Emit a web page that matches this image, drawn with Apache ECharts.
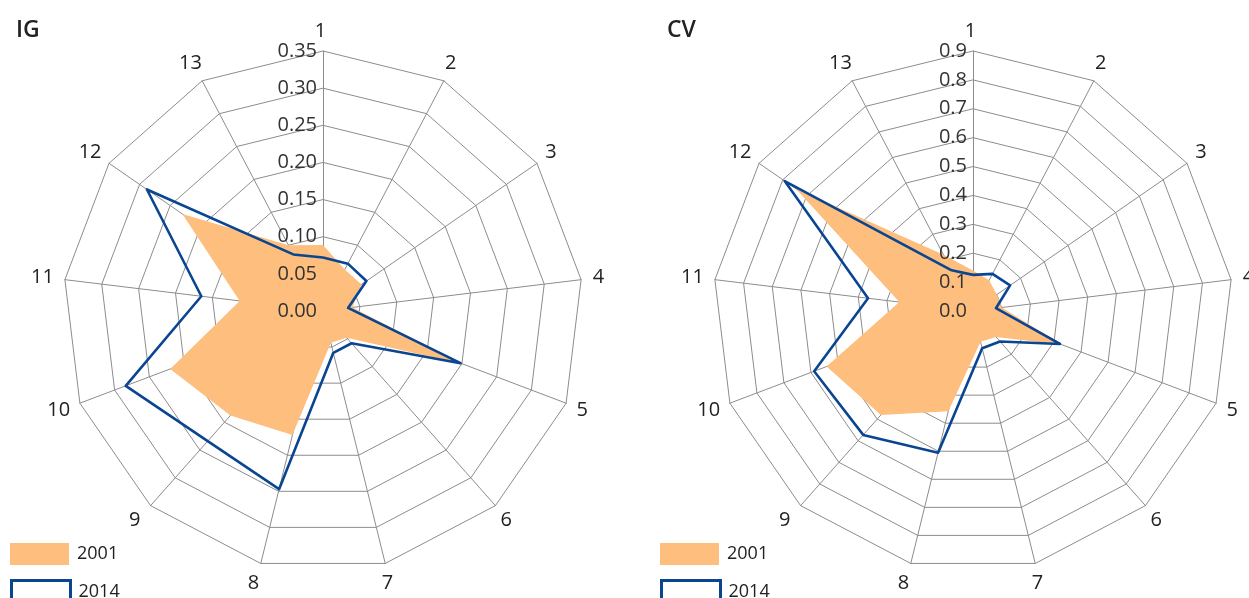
<!DOCTYPE html>
<html>
<head>
<meta charset="utf-8">
<script src="https://cdn.jsdelivr.net/npm/echarts@6/dist/echarts.min.js"></script>
<style>
  html, body { margin: 0; padding: 0; background: #fff; }
  #chart { width: 1249px; height: 598px; }
</style>
</head>
<body>
<div id="chart"></div>
<script>
// 13 indicators, 1 at the top, numbered clockwise
const indicators = ["1", "2", "3", "4", "5", "6", "7", "8", "9", "10", "11", "12", "13"];

// IG panel
const ig2001 = [0.089, 0.063, 0.063, 0.040, 0.200, 0.048, 0.044, 0.172, 0.188, 0.220, 0.113, 0.230, 0.100];
const ig2014 = [0.072, 0.072, 0.071, 0.034, 0.198, 0.058, 0.058, 0.247, 0.234, 0.284, 0.165, 0.288, 0.086];
const igMax = 0.35, igStep = 0.05;

// CV panel
const cv2001 = [0.140, 0.120, 0.100, 0.100, 0.330, 0.120, 0.110, 0.357, 0.481, 0.542, 0.257, 0.745, 0.220];
const cv2014 = [0.125, 0.145, 0.156, 0.080, 0.322, 0.141, 0.133, 0.505, 0.573, 0.588, 0.366, 0.792, 0.159];
const cvMax = 0.9, cvStep = 0.1;

const FONT = "Open Sans";
const ORANGE = "#fdbe7e";
const BLUE = "#0a4592";
const GRID = "#8c8c8c";

// echarts radar runs counter-clockwise, so flip the order
const order = [0, 12, 11, 10, 9, 8, 7, 6, 5, 4, 3, 2, 1];
const flip = arr => order.map(i => arr[i]);

function radarCfg(cx, max, step) {
  return {
    center: [cx, 311],
    radius: 260,
    startAngle: 90,
    shape: "polygon",
    splitNumber: Math.round(max / step),
    indicator: order.map(i => ({ name: indicators[i], min: 0, max: max })),
    nameGap: 20,
    axisName: {
      color: "#222", fontSize: 20, fontFamily: FONT,
      align: "center", verticalAlign: "middle",
      padding: [6, 5, 0, 0]
    },
    axisLine: { lineStyle: { color: GRID, width: 1 } },
    splitLine: { lineStyle: { color: GRID, width: 1 } },
    splitArea: { show: false }
  };
}

// one legend block per entry so they stack like the original
function legendItem(left, top, name) {
  const style = name === "2001"
    ? { color: ORANGE, borderWidth: 0 }
    : { color: "#fff", borderColor: BLUE, borderWidth: 3 };
  return {
    left: left, top: top, padding: 0,
    itemWidth: 59, itemHeight: 22,
    textStyle: { color: "#222", fontSize: 18, fontFamily: FONT, padding: [0, 0, 0, 3] },
    data: [{ name: name, icon: "rect", itemStyle: style }]
  };
}

function labelAxis(idx, max, step, digits) {
  return {
    polarIndex: idx, min: 0, max: max, interval: step,
    axisLine: { show: false }, axisTick: { show: false }, splitLine: { show: false },
    axisLabel: {
      color: "#333", fontSize: 20, fontFamily: FONT, margin: 6,
      padding: [6, 0, 0, 0],
      formatter: v => v.toFixed(digits)
    },
    z: 5
  };
}

const chart = echarts.init(document.getElementById("chart"));
chart.setOption({
  animation: false,
  title: [
    { text: "IG", left: 11, top: 14, textStyle: { fontSize: 23, fontWeight: 600, color: "#222", fontFamily: FONT } },
    { text: "CV", left: 662, top: 14, textStyle: { fontSize: 23, fontWeight: 600, color: "#222", fontFamily: FONT } }
  ],
  legend: [
    legendItem(10, 543, "2001"), legendItem(10, 579, "2014"),
    legendItem(660, 543, "2001"), legendItem(660, 579, "2014")
  ],
  radar: [radarCfg(323, igMax, igStep), radarCfg(973, cvMax, cvStep)],
  polar: [
    { center: [323, 311], radius: 260 },
    { center: [973, 311], radius: 260 }
  ],
  angleAxis: [
    { polarIndex: 0, type: "value", min: 0, max: 360, startAngle: 90, show: false },
    { polarIndex: 1, type: "value", min: 0, max: 360, startAngle: 90, show: false }
  ],
  radiusAxis: [labelAxis(0, igMax, igStep, 2), labelAxis(1, cvMax, cvStep, 1)],
  series: [
    {
      type: "radar", radarIndex: 0, symbol: "none", z: 2,
      data: [
        { name: "2001", value: flip(ig2001),
          lineStyle: { width: 0, color: ORANGE }, itemStyle: { color: ORANGE },
          areaStyle: { color: ORANGE, opacity: 1 } },
        { name: "2014", value: flip(ig2014),
          lineStyle: { width: 2.6, color: BLUE }, itemStyle: { color: BLUE } }
      ]
    },
    {
      type: "radar", radarIndex: 1, symbol: "none", z: 2,
      data: [
        { name: "2001", value: flip(cv2001),
          lineStyle: { width: 0, color: ORANGE }, itemStyle: { color: ORANGE },
          areaStyle: { color: ORANGE, opacity: 1 } },
        { name: "2014", value: flip(cv2014),
          lineStyle: { width: 2.6, color: BLUE }, itemStyle: { color: BLUE } }
      ]
    }
  ]
});
</script>
</body>
</html>
